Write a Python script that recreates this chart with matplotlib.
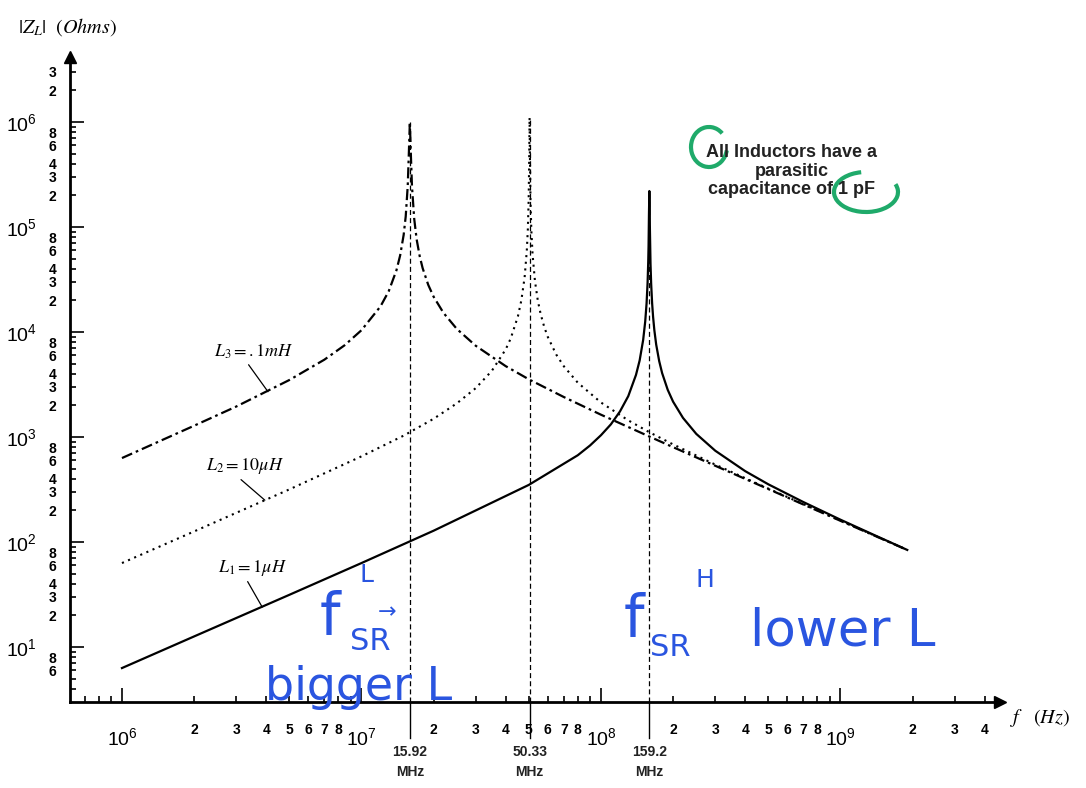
import numpy as np
import matplotlib
matplotlib.use("Agg")
import matplotlib.pyplot as plt
import matplotlib.transforms as mtransforms
from matplotlib.patches import Arc

plt.rcParams['font.family'] = ['Liberation Sans', 'DejaVu Sans']
plt.rcParams['mathtext.fontset'] = 'stix'

# impedance magnitude of each inductor, frequency in MHz, |Z| in ohms
f_l1 = [1, 2, 5, 10, 20, 50, 80, 90, 100, 110, 120, 130, 140, 145, 150, 153, 155,
        156.5, 157.5, 158, 158.6, 159.2, 159.8, 160, 161, 162, 163.5, 165, 167,
        170, 175, 180, 190, 200, 220, 250, 300, 400, 500, 700, 1000, 1400, 1900]
z_l1 = [6.3, 12.6, 31.4, 63, 128, 350, 670, 830, 1040, 1320, 1750, 2450, 3900,
        5350, 8400, 12600, 18700, 29200, 46600, 66000, 132000, 220000, 133000,
        100000, 44500, 28700, 18800, 14000, 10450, 7600, 5280, 4060, 2810, 2170,
        1520, 1070, 740, 473, 354, 240, 163, 115, 84]

f_l2 = [1, 2, 5, 10, 15, 20, 25, 30, 35, 40, 42, 45, 46.5, 48, 49, 49.5, 49.9,
        50.15, 50.33, 50.5, 50.8, 51.2, 51.8, 53, 54.5, 56, 58, 60, 65, 70, 80,
        100, 130, 159.2, 200, 300, 500, 1000, 1900]
z_l2 = [63, 126, 317, 654, 1030, 1490, 2090, 2920, 4260, 6820, 8690, 14100,
        20000, 33300, 59100, 95000, 184000, 443000, 1100000, 473000, 170000,
        92000, 54900, 30600, 19800, 14800, 11100, 8950, 6110, 4710, 3290, 2130,
        1440, 1110, 850, 546, 322, 160, 84]

f_l3 = [1, 2, 3, 5, 7, 8.5, 10, 12, 13, 14, 14.5, 15, 15.3, 15.6, 15.75, 15.92,
        16.1, 16.25, 16.6, 17, 17.5, 18, 19, 20, 22, 25, 30, 40, 50, 70, 100,
        159.2, 200, 300, 500, 1000, 1900]
z_l3 = [630, 1280, 1950, 3490, 5450, 7470, 10400, 17500, 24500, 38800, 53500,
        84000, 126000, 246000, 465000, 1000000, 445000, 244000, 120000, 76000,
        52800, 40600, 28100, 21700, 15200, 10700, 7390, 4730, 3540, 2400, 1630,
        1010, 800, 532, 319, 159, 84]

res_mhz = [15.92, 50.33, 159.2]
res_peak = [1.0e6, 1.1e6, 2.2e5]
res_text = ['15.92\nMHz', '50.33\nMHz', '159.2\nMHz']

fig = plt.figure(figsize=(10.86, 7.88), dpi=100)
W, H = 1086, 788
ax = fig.add_axes([70 / W, (H - 702) / H, 930 / W, (702 - 57) / H])
ax.set_xscale('log')
ax.set_yscale('log')
ax.set_xlim(10 ** 5.783, 10 ** 9.666)
ax.set_ylim(10 ** 0.476, 10 ** 6.619)

mhz = 1e6
ax.plot(np.array(f_l1) * mhz, z_l1, color='black', lw=1.6)
ax.plot(np.array(f_l2) * mhz, z_l2, color='black', lw=1.5, linestyle=(0, (1, 2.2)))
ax.plot(np.array(f_l3) * mhz, z_l3, color='black', lw=1.6,
        linestyle=(0, (5, 1.8, 1.2, 1.8)))

# resonance markers
blend = mtransforms.blended_transform_factory(ax.transData, ax.transAxes)
for fr, pk, txt in zip(res_mhz, res_peak, res_text):
    ax.plot([fr * mhz, fr * mhz], [10 ** 0.476, pk], color='black', lw=0.9,
            linestyle=(0, (4, 2.5)))
    ax.plot([fr * mhz, fr * mhz], [-0.056, 0], color='black', lw=1.0,
            transform=blend, clip_on=False)
    ax.text(fr * mhz, -0.066, txt, transform=blend, ha='center', va='top',
            fontsize=10, fontweight='bold', linespacing=1.55, color='#222222')

# spines / arrows
for s in ['top', 'right']:
    ax.spines[s].set_visible(False)
for s in ['left', 'bottom']:
    ax.spines[s].set_linewidth(2)
ax.plot(1, 0, '>k', transform=ax.transAxes, clip_on=False, ms=8)
ax.plot(0, 1, '^k', transform=ax.transAxes, clip_on=False, ms=8)

# x ticks
x_major = [1e6, 1e7, 1e8, 1e9]
x_major_lbl = [r'$\mathregular{10^{%d}}$' % k for k in range(6, 10)]
x_minor, x_minor_lbl = [], []
for d in range(5, 10):
    for m in range(2, 10):
        v = m * 10 ** d
        if v < 10 ** 5.783 or v > 10 ** 9.666:
            continue
        x_minor.append(v)
        if d == 5:
            x_minor_lbl.append('')
        elif d == 9:
            x_minor_lbl.append(str(m) if m <= 4 else '')
        else:
            x_minor_lbl.append(str(m) if m <= 8 else '')
ax.set_xticks(x_major)
ax.set_xticklabels(x_major_lbl, fontsize=14)
ax.set_xticks(x_minor, minor=True)
ax.set_xticklabels(x_minor_lbl, minor=True, fontsize=10, fontweight='bold')

# y ticks
y_major = [1e1, 1e2, 1e3, 1e4, 1e5, 1e6]
y_major_lbl = [r'$\mathregular{10^{%d}}$' % k for k in range(1, 7)]
y_minor, y_minor_lbl = [], []
for d in range(0, 7):
    for m in range(2, 10):
        v = m * 10 ** d
        if v < 10 ** 0.55 or v > 10 ** 6.55:
            continue
        y_minor.append(v)
        if d == 0:
            y_minor_lbl.append(str(m) if m in (6, 8) else '')
        else:
            y_minor_lbl.append(str(m) if m in (2, 3, 4, 6, 8) else '')
ax.set_yticks(y_major)
ax.set_yticklabels(y_major_lbl, fontsize=14)
ax.set_yticks(y_minor, minor=True)
ax.set_yticklabels(y_minor_lbl, minor=True, fontsize=10, fontweight='bold')

ax.tick_params(which='both', direction='in', colors='black', width=1.2)
ax.tick_params(which='major', length=10)
ax.tick_params(which='minor', length=4)
ax.tick_params(axis='x', which='major', pad=18)
ax.tick_params(axis='x', which='minor', pad=15)
ax.tick_params(axis='y', which='major', pad=24)
ax.tick_params(axis='y', which='minor', pad=10)

# curve labels with leader lines
lbl_kw = dict(fontsize=13, ha='center', va='center',
              arrowprops=dict(arrowstyle='-', lw=0.9, color='black',
                              relpos=(0.4, 0.0), shrinkA=1, shrinkB=0))
ax.annotate(r'$L_3 = .1mH$', xy=(4.07e6, 2700), xytext=(3.55e6, 6500), **lbl_kw)
ax.annotate(r'$L_2 = 10\mu H$', xy=(3.95e6, 250), xytext=(3.25e6, 530), **lbl_kw)
ax.annotate(r'$L_1 = 1\mu H$', xy=(3.85e6, 24), xytext=(3.5e6, 57), **lbl_kw)

# axis titles
fig.text(18 / W, 1 - 27 / H, r'$|Z_L|\ \ (Ohms)$', fontsize=14.5, va='center')
fig.text(1010 / W, 1 - 718 / H, r'$f\ \ \ (Hz)$', fontsize=14.5, va='center')

# note
fig.text(792 / W, 1 - 171 / H, 'All Inductors have a\nparasitic\ncapacitance of 1 pF',
         ha='center', va='center', fontsize=13, fontweight='bold',
         linespacing=1.15, color='#222222')

# green pen circles
green = '#1faa6a'
fig.add_artist(Arc((709 / W, 1 - 147 / H), 36 / W, 40 / H, theta1=55, theta2=345,
                   transform=fig.transFigure, color=green, lw=3))
fig.add_artist(Arc((866 / W, 1 - 192 / H), 64 / W, 40 / H, theta1=100, theta2=380,
                   transform=fig.transFigure, color=green, lw=3))

# blue handwriting
blue = '#2a55e0'
hw = dict(color=blue, family='DejaVu Sans')
fig.text(320 / W, 1 - 618 / H, 'f', fontsize=42, va='center', **hw)
fig.text(350 / W, 1 - 642 / H, 'SR', fontsize=22, va='center', **hw)
fig.text(360 / W, 1 - 575 / H, 'L', fontsize=18, va='center', **hw)
fig.text(378 / W, 1 - 612 / H, '\u2192', fontsize=16, va='center', **hw)
fig.text(265 / W, 1 - 688 / H, 'bigger L', fontsize=33, va='center', **hw)
fig.text(624 / W, 1 - 620 / H, 'f', fontsize=42, va='center', **hw)
fig.text(650 / W, 1 - 648 / H, 'SR', fontsize=22, va='center', **hw)
fig.text(695 / W, 1 - 580 / H, 'H', fontsize=18, va='center', **hw)
fig.text(750 / W, 1 - 632 / H, 'lower L', fontsize=37, va='center', **hw)

fig.savefig('out.png', dpi=100)
